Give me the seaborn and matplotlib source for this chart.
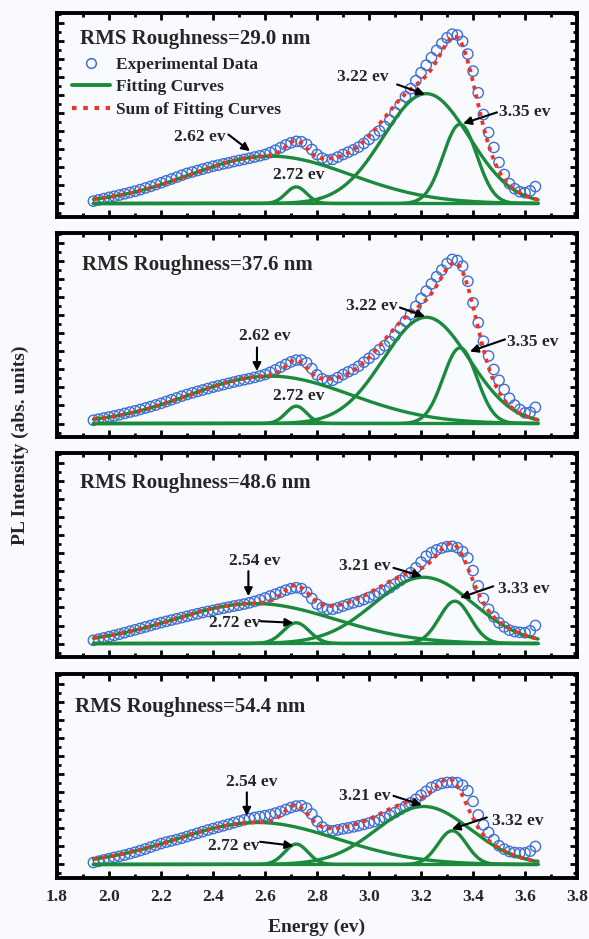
import matplotlib
matplotlib.use("Agg")
import matplotlib.pyplot as plt
from matplotlib.lines import Line2D
from matplotlib.ticker import MultipleLocator
import numpy as np
import pandas as pd
import seaborn as sns

# ---- data ---------------------------------------------------------------
energy = np.round(np.arange(1.94, 3.645, 0.02), 2)

roughness = ["29.0", "37.6", "48.6", "54.4"]

pl_290 = [0.013, 0.020, 0.027, 0.034, 0.040, 0.047, 0.054, 0.061, 0.068, 0.077,
          0.086, 0.095, 0.105, 0.115, 0.126, 0.136, 0.146, 0.157, 0.167, 0.175,
          0.183, 0.191, 0.199, 0.207, 0.213, 0.220, 0.226, 0.233, 0.239, 0.245,
          0.251, 0.258, 0.265, 0.272, 0.283, 0.296, 0.310, 0.325, 0.337, 0.345,
          0.343, 0.328, 0.300, 0.272, 0.252, 0.242, 0.245, 0.258, 0.272, 0.285,
          0.298, 0.313, 0.333, 0.356, 0.380, 0.403, 0.428, 0.462, 0.504, 0.548,
          0.593, 0.637, 0.682, 0.726, 0.768, 0.810, 0.850, 0.888, 0.920, 0.940,
          0.935, 0.900, 0.830, 0.735, 0.615, 0.494, 0.394, 0.311, 0.228, 0.161,
          0.110, 0.082, 0.065, 0.060, 0.070, 0.094]
pl_376 = [0.018, 0.024, 0.030, 0.036, 0.042, 0.049, 0.056, 0.063, 0.070, 0.078,
          0.086, 0.094, 0.103, 0.112, 0.122, 0.132, 0.142, 0.152, 0.161, 0.170,
          0.178, 0.186, 0.194, 0.202, 0.209, 0.216, 0.223, 0.230, 0.237, 0.243,
          0.249, 0.256, 0.264, 0.272, 0.284, 0.298, 0.313, 0.328, 0.342, 0.352,
          0.352, 0.337, 0.305, 0.270, 0.248, 0.237, 0.240, 0.255, 0.272, 0.287,
          0.300, 0.318, 0.340, 0.362, 0.385, 0.410, 0.432, 0.455, 0.488, 0.528,
          0.568, 0.606, 0.650, 0.694, 0.735, 0.775, 0.815, 0.852, 0.888, 0.911,
          0.905, 0.874, 0.790, 0.670, 0.560, 0.457, 0.375, 0.300, 0.240, 0.189,
          0.140, 0.102, 0.078, 0.059, 0.062, 0.090]
pl_486 = [0.018, 0.024, 0.031, 0.038, 0.045, 0.052, 0.060, 0.068, 0.076, 0.084,
          0.092, 0.100, 0.108, 0.116, 0.123, 0.130, 0.137, 0.144, 0.151, 0.158,
          0.165, 0.172, 0.178, 0.184, 0.190, 0.196, 0.202, 0.208, 0.213, 0.219,
          0.226, 0.234, 0.243, 0.253, 0.264, 0.274, 0.285, 0.296, 0.305, 0.310,
          0.305, 0.285, 0.250, 0.218, 0.200, 0.190, 0.190, 0.198, 0.208, 0.218,
          0.226, 0.234, 0.244, 0.256, 0.268, 0.280, 0.294, 0.310, 0.330, 0.350,
          0.370, 0.393, 0.420, 0.452, 0.485, 0.505, 0.520, 0.530, 0.538, 0.540,
          0.532, 0.510, 0.475, 0.405, 0.320, 0.250, 0.190, 0.148, 0.115, 0.092,
          0.074, 0.066, 0.062, 0.060, 0.070, 0.100]
pl_544 = [0.011, 0.018, 0.025, 0.032, 0.039, 0.045, 0.052, 0.060, 0.068, 0.077,
          0.086, 0.096, 0.106, 0.116, 0.124, 0.131, 0.138, 0.146, 0.155, 0.164,
          0.173, 0.182, 0.191, 0.199, 0.207, 0.215, 0.223, 0.232, 0.240, 0.248,
          0.255, 0.261, 0.266, 0.271, 0.277, 0.285, 0.294, 0.305, 0.316, 0.324,
          0.326, 0.312, 0.280, 0.240, 0.208, 0.190, 0.187, 0.192, 0.198, 0.203,
          0.209, 0.215, 0.222, 0.230, 0.238, 0.248, 0.260, 0.273, 0.288, 0.305,
          0.322, 0.342, 0.362, 0.384, 0.406, 0.428, 0.440, 0.450, 0.455, 0.456,
          0.454, 0.440, 0.410, 0.350, 0.275, 0.220, 0.178, 0.138, 0.104, 0.085,
          0.072, 0.066, 0.064, 0.064, 0.074, 0.100]

# gaussian components of the fit: centre (eV), height, width
centers_290 = [2.62, 2.72, 3.22, 3.35]
heights_290 = [0.263, 0.092, 0.61, 0.44]
widths_290 = [0.31, 0.04, 0.165, 0.065]
centers_376 = [2.62, 2.72, 3.22, 3.35]
heights_376 = [0.263, 0.096, 0.59, 0.42]
widths_376 = [0.31, 0.04, 0.165, 0.065]
centers_486 = [2.56, 2.72, 3.21, 3.33]
heights_486 = [0.222, 0.115, 0.368, 0.235]
widths_486 = [0.31, 0.05, 0.19, 0.06]
centers_544 = [2.57, 2.72, 3.21, 3.32]
heights_544 = [0.233, 0.113, 0.322, 0.187]
widths_544 = [0.31, 0.045, 0.18, 0.055]

peak_labels_290 = ["2.62 ev", "2.72 ev", "3.22 ev", "3.35 ev"]
peak_labels_376 = ["2.62 ev", "2.72 ev", "3.22 ev", "3.35 ev"]
peak_labels_486 = ["2.54 ev", "2.72 ev", "3.21 ev", "3.33 ev"]
peak_labels_544 = ["2.54 ev", "2.72 ev", "3.21 ev", "3.32 ev"]

BLUE = "#3f6fd2"
GREEN = "#1b8a3c"
RED = "#ec3527"
BG = "#f9fafd"

# label layout: (text pos, arrow tail, arrow head) in data coords
label_layout = [
    [((2.35, 0.372), (2.459, 0.383), (2.542, 0.291)),
     ((2.731, 0.161), None, None),
     ((2.977, 0.70), (3.108, 0.661), (3.215, 0.606)),
     ((3.60, 0.506), (3.492, 0.506), (3.362, 0.444))],
    [((2.60, 0.485), (2.569, 0.422), (2.569, 0.291)),
     ((2.731, 0.152), None, None),
     ((3.012, 0.652), (3.119, 0.644), (3.215, 0.594)),
     ((3.63, 0.45), (3.523, 0.467), (3.388, 0.40))],
    [((2.562, 0.457), (2.536, 0.402), (2.536, 0.263)),
     ((2.485, 0.115), (2.581, 0.124), (2.709, 0.115)),
     ((2.985, 0.43), (3.094, 0.42), (3.203, 0.374)),
     ((3.594, 0.30), (3.478, 0.318), (3.35, 0.254))],
    [((2.549, 0.456), (2.53, 0.40), (2.53, 0.27)),
     ((2.478, 0.104), (2.581, 0.126), (2.709, 0.104)),
     ((2.985, 0.381), (3.094, 0.381), (3.203, 0.33)),
     ((3.574, 0.243), (3.453, 0.261), (3.318, 0.196))],
]
title_pos = [(0.044, 0.872), (0.048, 0.843), (0.044, 0.853), (0.035, 0.84)]


def gaussian(e, center, height, width):
    return height * np.exp(-(e - center) ** 2 / (2 * width ** 2))


def draw_panel(ax, pl, centers, heights, widths, labels, layout, rms, tpos):
    df = pd.DataFrame({"Energy": energy, "PL": pl})
    sns.scatterplot(data=df, x="Energy", y="PL", ax=ax, marker="o", s=55,
                    facecolor="none", edgecolor=BLUE, linewidth=1.0,
                    zorder=2)

    fit_e = np.linspace(1.94, 3.65, 400)
    total = np.zeros_like(fit_e)
    for c, h, w in zip(centers, heights, widths):
        comp = gaussian(fit_e, c, h, w)
        total += comp
        sns.lineplot(x=fit_e, y=comp, ax=ax, color=GREEN, lw=2.4,
                     zorder=3)
    sns.lineplot(x=fit_e, y=total, ax=ax, color=RED, lw=2.7,
                 linestyle=(0, (1.1, 1.3)), zorder=4)

    ax.text(tpos[0], tpos[1], f"RMS Roughness={rms} nm",
            transform=ax.transAxes, fontsize=15, fontweight="bold",
            va="center", ha="left")

    for lab, (txt, tail, head) in zip(labels, layout):
        ax.text(txt[0], txt[1], lab, fontsize=12.5, fontweight="bold",
                ha="center", va="center", zorder=6)
        if tail is not None:
            ax.annotate("", xy=head, xytext=tail,
                        arrowprops=dict(arrowstyle="-|>", color="black",
                                        lw=1.5, mutation_scale=12,
                                        shrinkA=0, shrinkB=0), zorder=6)

    ax.set_xlim(1.8, 3.8)
    ax.set_ylim(-0.075, 1.058)
    ax.set_facecolor(BG)
    ax.xaxis.set_major_locator(MultipleLocator(0.2))
    ax.xaxis.set_minor_locator(MultipleLocator(0.1))
    ax.yaxis.set_major_locator(MultipleLocator(0.1))
    ax.yaxis.set_minor_locator(MultipleLocator(0.05))
    ax.tick_params(axis="both", which="both", direction="in", top=True,
                   bottom=True, left=True, right=True, labelleft=False,
                   labelbottom=False, width=2.0, color="black")
    ax.tick_params(axis="both", which="major", length=5)
    ax.tick_params(axis="both", which="minor", length=3)
    for sp in ax.spines.values():
        sp.set_linewidth(2.8)
        sp.set_color("black")
    ax.set_xlabel("")
    ax.set_ylabel("")


def main():
    sns.set_theme(style="ticks")
    plt.rcParams["font.family"] = ["Liberation Serif", "DejaVu Serif"]
    plt.rcParams["font.weight"] = "bold"

    fig = plt.figure(figsize=(5.89, 9.39), dpi=100, facecolor=BG)
    left, width, height = 0.0968, 0.8829, 0.2173
    bottoms = [0.7689, 0.5346, 0.3003, 0.0650]
    axes = [fig.add_axes([left, b, width, height]) for b in bottoms]

    pls = [pl_290, pl_376, pl_486, pl_544]
    centers = [centers_290, centers_376, centers_486, centers_544]
    heights = [heights_290, heights_376, heights_486, heights_544]
    widths = [widths_290, widths_376, widths_486, widths_544]
    labels = [peak_labels_290, peak_labels_376, peak_labels_486,
              peak_labels_544]

    for i, ax in enumerate(axes):
        draw_panel(ax, pls[i], centers[i], heights[i], widths[i], labels[i],
                   label_layout[i], roughness[i], title_pos[i])

    handles = [
        Line2D([], [], marker="o", ls="", mfc="none", mec=BLUE, ms=7,
               mew=1.1),
        Line2D([], [], color=GREEN, lw=2.8),
        Line2D([], [], color=RED, lw=3.0, ls=(0, (1.1, 1.6))),
    ]
    axes[0].legend(handles, ["Experimental Data", "Fitting Curves",
                             "Sum of Fitting Curves"],
                   loc="upper left", bbox_to_anchor=(0.029, 0.785),
                   frameon=False, borderpad=0, borderaxespad=0,
                   handlelength=2.2, handletextpad=0.35, labelspacing=0.36,
                   prop={"size": 12.5, "weight": "bold"})

    bottom_ax = axes[-1]
    bottom_ax.tick_params(axis="x", which="major", labelbottom=True,
                          labelsize=12.5, pad=8)
    for t in bottom_ax.get_xticklabels():
        t.set_fontweight("bold")
    bottom_ax.set_xlabel("Energy (ev)", fontsize=14, fontweight="bold",
                         labelpad=10)

    fig.text(0.034, 0.526, "PL Intensity (abs. units)", rotation=90,
             fontsize=14, fontweight="bold", ha="center", va="center")

    fig.savefig("out.png", dpi=100, facecolor=BG)


if __name__ == "__main__":
    main()
